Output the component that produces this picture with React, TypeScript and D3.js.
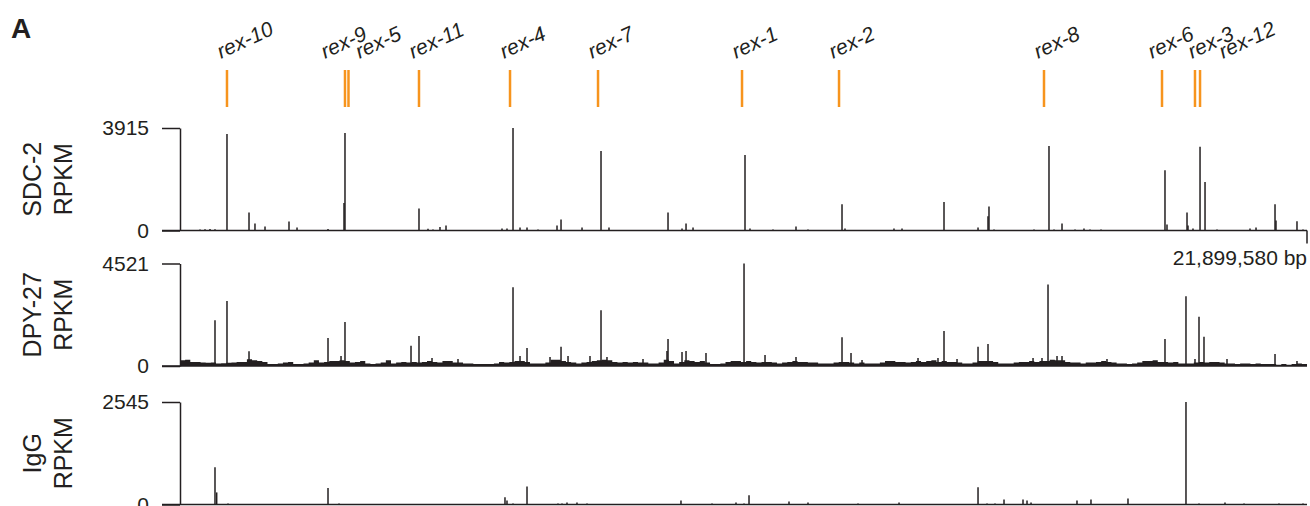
import { useRef, useEffect } from "react";
import * as d3 from "d3";

// chromosome length shown at the right end of the first track
const chromLengthBp = 21899580;

// rex sites (position in Mb)
const rexNames = ["rex-10", "rex-9", "rex-5", "rex-11", "rex-4", "rex-7", "rex-1", "rex-2", "rex-8", "rex-6", "rex-3", "rex-12"];
const rexPositionsMb = [0.913, 3.206, 3.274, 4.644, 6.413, 8.123, 10.921, 12.806, 16.789, 19.082, 19.723, 19.821];

const trackNames = ["SDC-2", "DPY-27", "IgG"];
const trackMaxRpkm = [3915, 4521, 2545];

// [position Mb, RPKM]
const sdc2Peaks: [number, number][] = [
  [0.389, 40], [0.486, 50], [0.583, 60], [0.68, 45], [0.913, 3685], [1.341, 690], [1.457, 270], [1.652, 150],
  [2.118, 345], [2.274, 115], [2.876, 60], [3.187, 1050], [3.206, 3725], [4.644, 845], [4.819, 70], [4.916, 40],
  [5.052, 130], [5.169, 190], [6.257, 80], [6.354, 80], [6.471, 3915], [6.607, 115], [6.743, 115], [6.957, 40],
  [7.326, 190], [7.404, 420], [7.812, 115], [8.181, 3040], [8.336, 115], [9.483, 690], [9.755, 80], [9.833, 270],
  [9.969, 115], [10.979, 2880], [11.076, 80], [11.523, 40], [11.97, 150], [12.203, 40], [12.864, 1000], [12.922, 80],
  [13.874, 80], [14.03, 80], [14.846, 1090], [15.507, 115], [15.701, 540], [15.72, 920], [15.818, 40], [16.595, 40],
  [16.886, 3225], [16.984, 40], [17.139, 270], [17.392, 40], [17.566, 80], [17.683, 40], [17.897, 40], [19.14, 2300],
  [19.179, 230], [19.568, 690], [19.587, 190], [19.684, 80], [19.821, 3200], [19.918, 1850], [20.151, 40], [20.792, 80],
  [20.909, 115], [21.278, 1000], [21.297, 380], [21.705, 350], [21.822, 40],
];

const dpy27Peaks: [number, number][] = [
  [0.68, 2020], [0.913, 2870], [1.341, 650], [2.876, 1230], [3.129, 440], [3.206, 1940], [4.489, 890], [4.644, 1320],
  [4.897, 350], [5.402, 310], [6.471, 3470], [6.607, 440], [6.743, 790], [7.19, 400], [7.404, 850], [7.54, 440],
  [7.967, 440], [8.181, 2460], [8.297, 400], [8.997, 310], [9.463, 660], [9.483, 1190], [9.755, 615], [9.833, 660],
  [10.221, 570], [10.96, 4521], [11.368, 480], [11.97, 400], [12.864, 1270], [13.039, 570], [13.253, 260],
  [14.341, 350], [14.729, 350], [14.846, 1540], [15.099, 310], [15.507, 850], [15.701, 970], [16.576, 350],
  [16.75, 350], [16.867, 3600], [17.042, 440], [17.139, 440], [18.013, 310], [19.14, 1190], [19.548, 3080],
  [19.723, 310], [19.801, 2170], [19.898, 1290], [20.345, 310], [21.278, 530], [21.705, 220],
];

// DPY-27 background signal, 0.1 Mb bins
const dpy27BinMb = 0.1;
const dpy27Background = [
  250, 280, 180, 180, 150, 140, 150, 110, 120, 140, 150, 180, 180, 300, 250, 220, 180, 90, 90, 110,
  150, 180, 90, 90, 110, 150, 250, 150, 180, 220, 220, 250, 220, 150, 180, 220, 110, 90, 110, 150,
  250, 110, 150, 180, 150, 180, 150, 180, 220, 180, 150,
  220, 220, 150, 150, 110, 110, 90, 90, 90, 90, 110, 180, 150, 180, 220, 220, 180, 110, 110, 110,
  150, 280, 280, 220, 180, 150, 110, 150, 180, 220, 250, 280, 250, 180, 150, 180, 150, 180, 150, 150,
  110, 110, 150, 280, 220, 110, 180, 250, 220, 180, 220, 150, 90, 90, 110, 180, 220, 220, 180, 220,
  180, 150, 180, 180, 150, 110, 150, 180, 220, 180, 180, 150, 150, 110, 110, 110, 150, 180, 180, 150,
  110, 150, 110,
  110, 110, 150, 220, 220, 180, 180, 150, 180, 220, 180, 220, 250, 180, 220, 180, 180, 150, 110, 110,
  150, 220, 220, 220, 180, 110, 110, 110, 150, 180, 180, 220, 180, 220, 220, 280, 250, 250, 180, 150,
  150, 110, 150, 150, 180, 220, 180, 150, 110, 110, 90, 110, 150, 220, 220, 250, 180, 180, 150, 180,
  110, 110, 110, 150, 180, 150, 180, 180, 150, 110, 110, 90, 110, 110, 90, 110, 90, 90, 90, 60,
  90, 60, 90, 110, 90,
];

const iggPeaks: [number, number][] = [
  [0.68, 925], [0.713, 300], [0.933, 25], [2.876, 410], [3.09, 25], [6.315, 180], [6.354, 100], [6.471, 25],
  [6.743, 450], [7.345, 25], [7.423, 25], [7.52, 50], [7.714, 50], [7.909, 25], [9.735, 100], [10.338, 25],
  [10.804, 50], [10.96, 25], [11.057, 230], [11.834, 75], [12.203, 50], [13.175, 25], [13.972, 50], [15.507, 430],
  [15.682, 25], [15.837, 25], [16.012, 125], [16.381, 125], [16.459, 100], [16.537, 50], [17.43, 100], [17.702, 125],
  [18.421, 150], [19.548, 2545], [19.801, 25], [20.306, 50], [20.676, 25], [21.355, 25], [21.822, 25],
];

// layout
const W = 1310;
const H = 506;
const xLeft = 180;
const xRight = 1307;
const panelTops = [128, 263.5, 402];
const panelHeight = 102.5;
const ink = "#231f20";
const orange = "#f7941d";
const font = "'Liberation Sans', Arial, Helvetica, sans-serif";
// label shifts for crowded rex names
const labelNudge: Record<string, number> = { "rex-9": -20, "rex-5": 11, "rex-6": -10, "rex-3": -3, "rex-12": 23 };

function App() {
  const svgRef = useRef<SVGSVGElement>(null);

  useEffect(() => {
    const svg = d3.select(svgRef.current);
    svg.selectAll("*").remove();

    const x = d3.scaleLinear().domain([0, chromLengthBp / 1e6]).range([xLeft, xRight]);

    // panel letter
    svg.append("text").attr("x", 11).attr("y", 38).attr("fill", ink)
      .style("font-size", "28px").style("font-weight", "bold").text("A");

    // rex markers
    const rex = rexNames.map((name, i) => ({ name, pos: rexPositionsMb[i] }));
    svg.selectAll("line.rex").data(rex).join("line")
      .attr("x1", (d) => x(d.pos)).attr("x2", (d) => x(d.pos))
      .attr("y1", 70).attr("y2", 107)
      .attr("stroke", orange).attr("stroke-width", 2.5);
    svg.selectAll("text.rex").data(rex).join("text")
      .attr("transform", (d) => `translate(${x(d.pos) + (labelNudge[d.name] ?? -6)},59) rotate(-25)`)
      .attr("fill", ink).style("font-size", "21px").style("font-style", "italic")
      .text((d) => d.name);

    const tracks = [sdc2Peaks, dpy27Peaks, iggPeaks];

    trackNames.forEach((name, i) => {
      const top = panelTops[i];
      const bottom = top + panelHeight;
      const y = d3.scaleLinear().domain([0, trackMaxRpkm[i]]).range([bottom, top]);
      const g = svg.append("g");

      // background for DPY-27
      if (i === 1) {
        const pts = dpy27Background.map((v, k) => [k * dpy27BinMb, v] as [number, number]);
        pts.push([chromLengthBp / 1e6, dpy27Background[dpy27Background.length - 1]]);
        const area = d3.area<[number, number]>()
          .x((d) => x(d[0]))
          .y0(y(0))
          .y1((d) => y(d[1]))
          .curve(d3.curveStepAfter);
        g.append("path").attr("d", area(pts)).attr("fill", ink);
      }

      g.selectAll("line.peak").data(tracks[i]).join("line")
        .attr("x1", (d) => x(d[0])).attr("x2", (d) => x(d[0]))
        .attr("y1", y(0)).attr("y2", (d) => y(d[1]))
        .attr("stroke", ink).attr("stroke-width", 1.5);

      // baseline
      g.append("line").attr("x1", 162).attr("x2", xRight)
        .attr("y1", y(0)).attr("y2", y(0))
        .attr("stroke", ink).attr("stroke-width", 1.5);

      const axis = d3.axisLeft(y).tickValues([0, trackMaxRpkm[i]])
        .tickSize(18).tickSizeOuter(0).tickPadding(13).tickFormat(d3.format("d"));
      const ag = g.append("g").attr("transform", `translate(${xLeft},0)`).call(axis);
      ag.attr("font-size", null).attr("font-family", null);
      ag.select(".domain").attr("stroke", ink).attr("stroke-width", 1.5);
      ag.selectAll(".tick line").attr("stroke", ink).attr("stroke-width", 1.5);
      ag.selectAll(".tick text").attr("fill", ink).style("font-size", "21px");

      // track title
      const title = g.append("text")
        .attr("transform", `translate(0,${(top + bottom) / 2}) rotate(-90)`)
        .attr("text-anchor", "middle").attr("fill", ink).style("font-size", "25px");
      title.append("tspan").attr("x", 0).attr("y", 40.5).text(name);
      title.append("tspan").attr("x", 0).attr("y", 72).text("RPKM");

      // chromosome end mark
      if (i === 0) {
        g.append("line").attr("x1", xRight).attr("x2", xRight)
          .attr("y1", y(0)).attr("y2", y(0) + 13)
          .attr("stroke", ink).attr("stroke-width", 1.5);
        g.append("text").attr("x", xRight).attr("y", 265).attr("text-anchor", "end")
          .attr("fill", ink).style("font-size", "21px")
          .text(`${d3.format(",")(chromLengthBp)} bp`);
      }
    });
  }, []);

  return (
    <svg
      ref={svgRef}
      width={W}
      height={H}
      style={{ position: "absolute", left: 0, top: 0, fontFamily: font, background: "#fff" }}
    />
  );
}

export default App;
